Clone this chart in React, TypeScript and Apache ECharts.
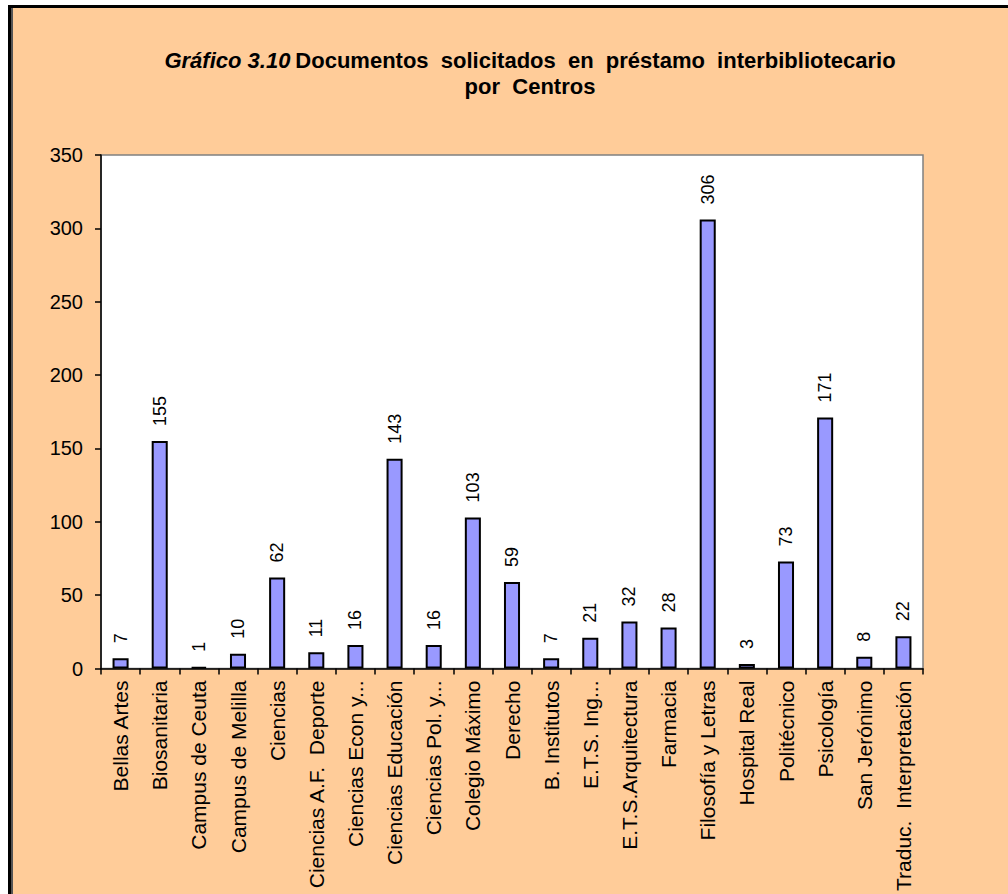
import React, { useEffect, useRef } from "react";
import * as echarts from "echarts";

const categories = [
  "Bellas Artes",
  "Biosanitaria",
  "Campus de Ceuta",
  "Campus de Melilla",
  "Ciencias",
  "Ciencias A.F.  Deporte",
  "Ciencias Econ y...",
  "Ciencias Educación",
  "Ciencias Pol. y...",
  "Colegio Máximo",
  "Derecho",
  "B. Institutos",
  "E.T.S. Ing...",
  "E.T.S.Arquitectura",
  "Farmacia",
  "Filosofía y Letras",
  "Hospital Real",
  "Politécnico",
  "Psicología",
  "San Jerónimo",
  "Traduc.  Interpretación",
];

const values = [7, 155, 1, 10, 62, 11, 16, 143, 16, 103, 59, 7, 21, 32, 28, 306, 3, 73, 171, 8, 22];

const yMin = 0;
const yMax = 350;
const yInterval = 50;

const FONT = "'Liberation Sans', Arial, sans-serif";

export default function App() {
  const ref = useRef<HTMLDivElement>(null);

  useEffect(() => {
    if (!ref.current) return;
    const chart = echarts.init(ref.current, undefined, { renderer: "svg" });
    chart.setOption({
      animation: false,
      backgroundColor: "transparent",
      title: {
        text: "{i|Gráfico 3.10} {b|Documentos  solicitados  en  préstamo  interbibliotecario}\n{b|por  Centros}",
        left: 525,
        top: 42,
        textAlign: "center",
        textStyle: {
          rich: {
            i: { fontFamily: FONT, fontSize: 22, fontWeight: "bold", fontStyle: "italic", color: "#000", lineHeight: 26 },
            b: { fontFamily: FONT, fontSize: 22, fontWeight: "bold", color: "#000", lineHeight: 26 },
          },
        },
      },
      grid: {
        left: 101,
        right: 85,
        top: 155,
        bottom: 222,
        show: true,
        backgroundColor: "#ffffff",
        borderColor: "#808080",
        borderWidth: 1.5,
      },
      xAxis: {
        type: "category",
        data: categories,
        axisLine: { show: true, lineStyle: { color: "#000", width: 1.5 } },
        axisTick: { show: true, alignWithLabel: false, length: 6, lineStyle: { color: "#000", width: 1.5 } },
        axisLabel: {
          rotate: 90,
          interval: 0,
          margin: 12,
          fontFamily: FONT,
          fontSize: 21,
          color: "#000",
        },
      },
      yAxis: {
        type: "value",
        min: yMin,
        max: yMax,
        interval: yInterval,
        splitLine: { show: false },
        axisLine: { show: true, lineStyle: { color: "#000", width: 1.5 } },
        axisTick: { show: true, length: 6, lineStyle: { color: "#000", width: 1.5 } },
        axisLabel: {
          margin: 18,
          fontFamily: FONT,
          fontSize: 20,
          color: "#000",
        },
      },
      series: [
        {
          type: "bar",
          data: values,
          barWidth: "41%",
          itemStyle: { color: "#9999FF", borderColor: "#000", borderWidth: 2 },
          label: {
            show: true,
            position: "top",
            rotate: 90,
            align: "left",
            verticalAlign: "middle",
            distance: 15,
            fontFamily: FONT,
            fontSize: 18,
            color: "#000",
          },
        },
      ],
    });
    return () => chart.dispose();
  }, []);

  return (
    <div style={{ position: "fixed", left: 0, top: 0, width: 1008, height: 894, overflow: "hidden", background: "#fff" }}>
      <div
        style={{
          position: "absolute",
          left: 8,
          top: 5,
          width: 1200,
          height: 1100,
          background: "#FFCC99",
          borderLeft: "3px solid #000",
          borderTop: "3px solid #000",
          boxShadow: "inset 2px 0 0 #555",
        }}
      />
      <div ref={ref} style={{ position: "absolute", left: 0, top: 0, width: 1008, height: 894 }} />
    </div>
  );
}
